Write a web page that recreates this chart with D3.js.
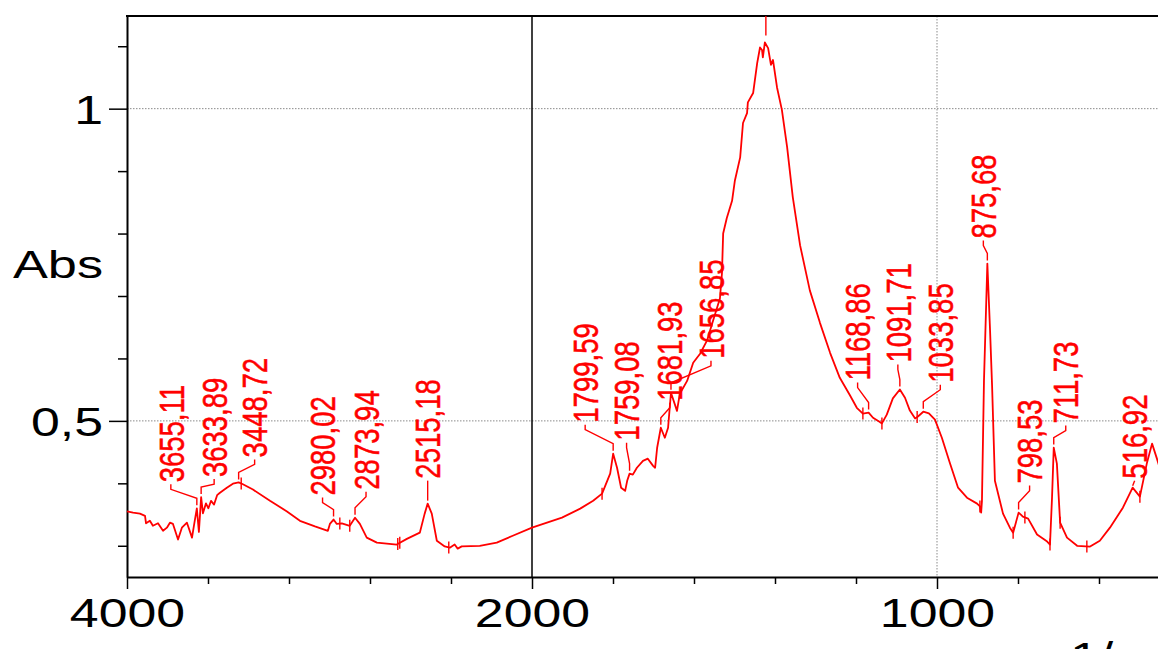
<!DOCTYPE html>
<html>
<head>
<meta charset="utf-8">
<script src="https://cdn.jsdelivr.net/npm/d3@7"></script>
<style>
  html, body { margin: 0; padding: 0; background: #fff; overflow: hidden; }
  svg { display: block; }
</style>
</head>
<body>
<svg id="chart" width="1158" height="649"></svg>
<script>
// FTIR absorbance spectrum (wavenumber in 1/cm, absorbance in Abs)
const wavenumber = [
  4000, 3970, 3936, 3911, 3906, 3887, 3872, 3847, 3822, 3803, 3788, 3773, 3748, 3729, 3704, 3679,
  3668, 3655.11, 3645, 3633.89, 3625, 3610, 3598, 3585, 3570, 3555, 3541, 3507, 3477, 3448.72, 3430,
  3378, 3294, 3210, 3146, 3072, 3008, 2998, 2980.02, 2964, 2939, 2900, 2873.94, 2850, 2816, 2766,
  2668, 2618, 2554, 2530, 2515.18, 2495, 2470, 2431, 2406, 2382, 2367, 2347, 2258, 2174, 2095, 2000,
  1963, 1926, 1881, 1849, 1827, 1807, 1799.59, 1790, 1780, 1770, 1765, 1759.08, 1751, 1741, 1726,
  1714, 1701, 1696, 1691, 1681.93, 1677, 1672, 1664, 1656.85, 1642, 1635, 1617, 1602, 1585, 1568,
  1553, 1536, 1531, 1528, 1519, 1506, 1499, 1486, 1479, 1469, 1467, 1454, 1444, 1437, 1432, 1430,
  1425, 1417, 1410, 1405, 1395, 1383, 1370, 1356, 1338, 1314, 1289, 1264, 1240, 1215, 1198, 1183,
  1168.86, 1158, 1143, 1136, 1124, 1109, 1091.71, 1079, 1067, 1054, 1047, 1033.85, 1020, 1005, 988,
  968, 948, 926, 901, 894, 891, 889, 884, 875.68, 869, 864, 857, 837, 820, 812, 798.53, 793, 788,
  775, 753, 728, 721, 716, 711.73, 704, 696, 679, 654, 622, 598, 573, 541, 516.92, 499, 482, 469,
  457, 444, 425, 400
];
const absorbance = [
  0.355, 0.353, 0.3515, 0.348, 0.336, 0.340, 0.332, 0.336, 0.324, 0.329, 0.337, 0.335, 0.310, 0.329, 0.337, 0.313,
  0.335, 0.360, 0.322, 0.378, 0.352, 0.368, 0.360, 0.372, 0.366, 0.381, 0.385, 0.393, 0.3995, 0.4015, 0.399,
  0.390, 0.372, 0.355, 0.340, 0.331, 0.324, 0.335, 0.342, 0.335, 0.336, 0.332, 0.345, 0.335, 0.313, 0.305,
  0.302, 0.311, 0.321, 0.3515, 0.3675, 0.3515, 0.308, 0.299, 0.297, 0.302, 0.2955, 0.299, 0.300, 0.305, 0.316, 0.329,
  0.337, 0.345, 0.3595, 0.372, 0.3835, 0.4155, 0.4475, 0.425, 0.393, 0.388, 0.404, 0.4155, 0.414, 0.425, 0.436,
  0.4395, 0.428, 0.425, 0.457, 0.489, 0.481, 0.473, 0.489, 0.545, 0.516, 0.5435, 0.564, 0.593, 0.6075, 0.6285,
  0.6605, 0.696, 0.736, 0.800, 0.825, 0.8525, 0.885, 0.922, 0.977, 0.993, 1.010, 1.025, 1.073, 1.098, 1.094, 1.082,
  1.106, 1.097, 1.070, 1.078, 1.034, 0.998, 0.938, 0.858, 0.781, 0.709, 0.657, 0.609, 0.569, 0.541, 0.521, 0.5117,
  0.5133, 0.505, 0.499, 0.496, 0.510, 0.536, 0.5502, 0.537, 0.5165, 0.504, 0.507, 0.5147, 0.512, 0.502, 0.473,
  0.432, 0.393, 0.377, 0.3675, 0.363, 0.353, 0.372, 0.5645, 0.752, 0.645, 0.5565, 0.404, 0.3515, 0.329, 0.321, 0.3531, 0.350, 0.3467,
  0.3435, 0.318, 0.3067, 0.302, 0.377, 0.4572, 0.4316, 0.337, 0.313, 0.300, 0.2987, 0.308, 0.329, 0.361, 0.3931, 0.3787, 0.4316, 0.4636,
  0.4396, 0.412, 0.388, 0.372
];

// Picked peaks and their labels
const peakWavenumbers = [3655.11, 3633.89, 3448.72, 2980.02, 2873.94, 2515.18, 1799.59, 1759.08,
  1681.93, 1656.85, 1168.86, 1091.71, 1033.85, 875.68, 798.53, 711.73, 516.92];
const peakLabels = ["3655,11", "3633,89", "3448,72", "2980,02", "2873,94", "2515,18", "1799,59", "1759,08",
  "1681,93", "1656,85", "1168,86", "1091,71", "1033,85", "875,68", "798,53", "711,73", "516,92"];
// Peak whose label sits above the plotted range
const offscalePeaks = [1425];
// Valley markers drawn across the trace
const valleyMarks = [3436, 2949, 2900, 2663, 2653, 2411, 1827, 1183, 1136, 1049, 894, 812, 783, 721, 696, 630, 499];

// Axis ticks
const xMajorTicks = [4000, 2000, 1000];
const xMajorLabels = ["4000", "2000", "1000"];
const xMinorTicks = [3600, 3200, 2800, 2400, 1800, 1600, 1400, 1200, 800, 600];
const yMajorTicks = [1, 0.5];
const yMajorLabels = ["1", "0,5"];
const yMinorTicks = [1.1, 0.9, 0.8, 0.7, 0.6, 0.4, 0.3];

// Label placement per peak: [horizontal shift of the label from the peak, height of the label foot above the peak], px
const labelPlacement = [
  [-26, 26], [13, 20], [16, 25], [-11, 24], [11, 28], [0, 25], [-28, 31], [-3, 33],
  [9, 27], [40, 34], [-11, 32], [-2, 27], [17, 29], [-4, 25], [11, 29], [12, 24], [2, 9]
];

const FONT = "'Liberation Sans', Arial, Helvetica, sans-serif";
const SX = 1.28;          // horizontal text stretch
const RED = "#ff0000";

const svg = d3.select("#chart");
const plotTop = 16, plotLeft = 127, plotRight = 1158, plotBottom = 577;

// Wavenumber axis with a scale change at 2000 1/cm
const x = d3.scaleLinear().domain([4000, 2000, 1000, 400]).range([127, 532, 937, 1180]);
const y = d3.scaleLinear().domain([0.25, 1.15]).range([577, 15]);

const spectrum = wavenumber.map((w, i) => ({ w, a: absorbance[i] }));

function absAt(w) {
  for (let i = 0; i < spectrum.length - 1; i++) {
    const p = spectrum[i], q = spectrum[i + 1];
    if (w <= p.w && w >= q.w) {
      const t = (p.w - w) / (p.w - q.w);
      return p.a + t * (q.a - p.a);
    }
  }
  return spectrum[spectrum.length - 1].a;
}

// Dotted grid
const grid = svg.append("g").attr("stroke", "#8a8a8a").attr("stroke-width", 1).attr("stroke-dasharray", "1.5,1.5");
yMajorTicks.forEach(v => {
  grid.append("line").attr("x1", plotLeft).attr("x2", plotRight).attr("y1", y(v)).attr("y2", y(v));
});
grid.append("line").attr("x1", x(1000)).attr("x2", x(1000)).attr("y1", plotTop).attr("y2", plotBottom);

// Scale-change divider at 2000
svg.append("line").attr("x1", x(2000)).attr("x2", x(2000)).attr("y1", plotTop).attr("y2", plotBottom)
  .attr("stroke", "#000").attr("stroke-width", 1.5);

// Top frame
svg.append("line").attr("x1", plotLeft - 1).attr("x2", plotRight).attr("y1", plotTop).attr("y2", plotTop)
  .attr("stroke", "#000").attr("stroke-width", 2);

// X axis
const xAxis = svg.append("g").attr("transform", `translate(0,${plotBottom})`)
  .call(d3.axisBottom(x).tickValues(xMajorTicks).tickSize(12).tickSizeOuter(0)
    .tickFormat((d, i) => xMajorLabels[i]));
xAxis.select(".domain").attr("stroke-width", 2);
xAxis.selectAll(".tick line").attr("stroke-width", 1.5);
xAxis.selectAll("text")
  .attr("y", 50).attr("dy", 0)
  .attr("transform", `scale(${SX},1)`)
  .attr("font-size", 40.5).attr("font-family", FONT).attr("fill", "#000");

const xMinor = svg.append("g").attr("transform", `translate(0,${plotBottom})`)
  .call(d3.axisBottom(x).tickValues(xMinorTicks).tickSize(7).tickFormat(""));
xMinor.select(".domain").remove();
xMinor.selectAll(".tick line").attr("stroke-width", 1.5);

// Y axis
const yAxis = svg.append("g").attr("transform", `translate(${plotLeft},0)`)
  .call(d3.axisLeft(y).tickValues(yMajorTicks).tickSize(18).tickSizeOuter(0)
    .tickFormat((d, i) => yMajorLabels[i]));
yAxis.select(".domain").attr("stroke-width", 2);
yAxis.selectAll(".tick line").attr("stroke-width", 1.5);
yAxis.selectAll("text")
  .attr("x", 0).attr("dy", 0)
  .attr("transform", `translate(-24,15) scale(${SX},1)`)
  .attr("text-anchor", "end")
  .attr("font-size", 40.5).attr("font-family", FONT).attr("fill", "#000");

const yMinor = svg.append("g").attr("transform", `translate(${plotLeft},0)`)
  .call(d3.axisLeft(y).tickValues(yMinorTicks).tickSize(9).tickFormat(""));
yMinor.select(".domain").remove();
yMinor.selectAll(".tick line").attr("stroke-width", 1.5);

// Axis titles
svg.append("text").attr("transform", `translate(13,278) scale(1.34,1)`)
  .attr("font-size", 39).attr("font-family", FONT).attr("fill", "#000").text("Abs");
svg.append("text").attr("transform", `translate(1070,671) scale(${SX},1)`)
  .attr("font-size", 40.5).attr("font-family", FONT).attr("fill", "#000").text("1/cm");

// Spectrum trace
const line = d3.line().x(d => x(d.w)).y(d => y(d.a));
svg.append("path").datum(spectrum).attr("d", line)
  .attr("fill", "none").attr("stroke", RED).attr("stroke-width", 1.8).attr("stroke-linejoin", "round");

// Valley markers
svg.append("g").attr("stroke", RED).attr("stroke-width", 1.4)
  .selectAll("line").data(valleyMarks).join("line")
  .attr("x1", d => x(d)).attr("x2", d => x(d))
  .attr("y1", d => y(absAt(d)) - 6).attr("y2", d => y(absAt(d)) + 6);

// Peak labels with leaders
const peaks = peakWavenumbers.map((w, i) => {
  const xp = x(w), yp = y(absAt(w));
  const [dx, rise] = labelPlacement[i];
  return { label: peakLabels[i], xp, yp, xl: xp + dx, yl: yp - rise };
});

const leaderPath = d3.line();
const labels = svg.append("g");
peaks.forEach(p => {
  const pts = (p.yp - p.yl) < 14
    ? [[p.xl, p.yl + 2], [p.xp, p.yp - 2]]
    : [[p.xl, p.yl + 2], [p.xl, p.yl + 7], [p.xp, p.yp - 10], [p.xp, p.yp - 3]];
  labels.append("path").attr("d", leaderPath(pts))
    .attr("fill", "none").attr("stroke", RED).attr("stroke-width", 1.4);
  labels.append("text")
    .attr("transform", `translate(${p.xl},${p.yl}) scale(${SX},1) rotate(-90)`)
    .attr("dy", "0.36em").attr("text-anchor", "start")
    .attr("font-size", 27.5).attr("font-family", FONT).attr("fill", RED)
    .attr("stroke", RED).attr("stroke-width", 0.45)
    .text(p.label);
});

// Leaders running off the top of the plot
svg.append("g").attr("stroke", RED).attr("stroke-width", 1.4)
  .selectAll("line").data(offscalePeaks).join("line")
  .attr("x1", d => x(d) + 1).attr("x2", d => x(d) + 1)
  .attr("y1", d => y(absAt(d)) - 7).attr("y2", plotTop);
</script>
</body>
</html>
